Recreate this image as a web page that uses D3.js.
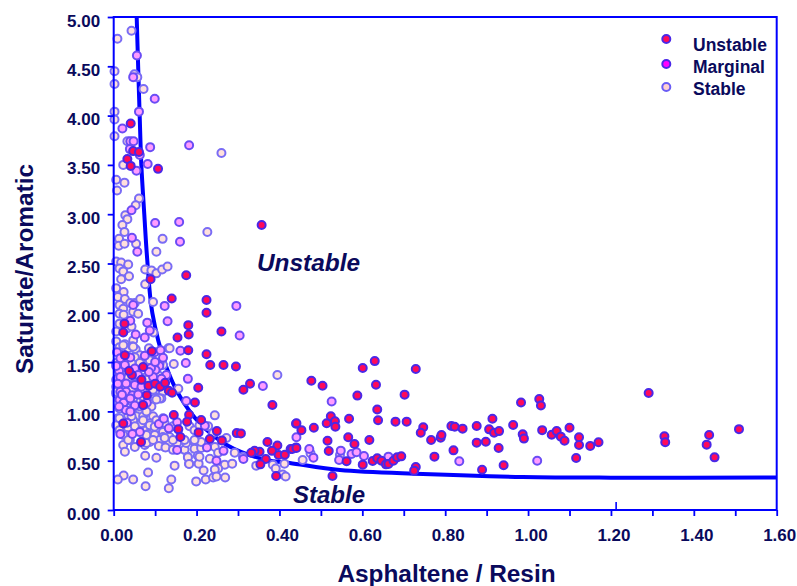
<!DOCTYPE html>
<html>
<head>
<meta charset="utf-8">
<script src="https://cdn.jsdelivr.net/npm/d3@7"></script>
<style>
  body { margin: 0; background: #fff; }
  text { font-family: "Liberation Sans", Arial, sans-serif; font-weight: bold; fill: #0a0a5c; }
</style>
</head>
<body>
<div id="chart"></div>
<script>
const curvePoints = [[0.0555,5],[0.059,4.5],[0.0627,4],[0.0667,3.5],[0.0738,3],[0.081,2.535],[0.0932,2],[0.1255,1.47],[0.16,1.15],[0.2075,0.88],[0.2727,0.66],[0.369,0.507],[0.425,0.477],[0.546,0.405],[0.746,0.365],[0.987,0.335],[1.2,0.328],[1.6,0.33]];

const unstablePoints = [[0.041,3.92],[0.047,3.64],[0.061,3.63],[0.033,3.56],[0.041,3.49],[0.107,3.46],[0.357,2.89],
[0.175,2.38],[0.089,2.34],[0.14,2.145],[0.224,2.13],[0.224,2],[0.18,1.875],[0.181,1.78],[0.154,1.75],[0.26,1.81],[0.18,1.62],[0.224,1.58],[0.233,1.47],[0.265,1.47],[0.295,1.456],[0.092,1.61],[0.071,1.45],[0.044,1.37],[0.067,1.32],[0.084,1.26],[0.1,1.28],[0.112,1.25],[0.124,1.29],[0.133,1.21],[0.141,1.19],[0.204,1.24],[0.313,1.22],[0.329,1.28],[0.383,1.065],[0.196,1.09],[0.026,1.89],[0.023,1.8],[0.027,1.57],[0.037,1.41],[0.08,1.165],[0.071,1.064],[0.145,0.963],[0.182,0.966],[0.177,0.895],[0.156,0.818],[0.161,0.74],[0.205,0.787],[0.211,0.912],[0.249,0.8],[0.232,0.72],[0.261,0.706],[0.297,0.78],[0.307,0.777],[0.066,0.69],[0.023,0.878],[0.371,0.69],[0.395,0.655],[0.382,0.6],[0.398,0.557],[0.413,0.56],[0.427,0.618],[0.44,0.635],[0.44,0.875],[0.352,0.59],[0.34,0.6],[0.332,0.58],[0.367,0.517],[0.354,0.463],[0.392,0.345],
[0.477,1.31],[0.504,1.26],[0.601,1.44],[0.63,1.51],[0.633,1.27],[0.729,1.43],[0.588,1.16],[0.702,1.17],[0.441,0.88],[0.453,0.81],[0.483,0.835],[0.514,0.88],[0.524,0.95],[0.534,0.9],[0.535,0.845],[0.568,0.926],[0.636,1.02],[0.638,0.91],[0.68,0.896],[0.707,0.896],[0.747,0.84],[0.741,0.784],[0.766,0.71],[0.789,0.734],[0.791,0.76],[0.815,0.852],[0.823,0.845],[0.842,0.825],[0.876,0.852],[0.876,0.683],[0.898,0.693],[0.914,0.926],[0.906,0.818],[0.918,0.784],[0.93,0.8],[0.929,0.629],[0.964,0.862],[0.987,0.767],[0.99,0.724],[0.983,1.09],[0.566,0.737],[0.581,0.669],[0.617,0.71],[0.516,0.703],[0.519,0.598],[0.431,0.619],[0.441,0.629],[0.562,0.494],[0.601,0.46],[0.625,0.497],[0.636,0.524],[0.646,0.5],[0.657,0.463],[0.663,0.467],[0.675,0.5],[0.684,0.534],[0.694,0.544],[0.729,0.436],[0.725,0.399],[0.528,0.345],[0.774,0.541],[0.82,0.605],[0.889,0.409],[0.941,0.453],
[1.027,1.126],[1.031,1.06],[1.034,0.81],[1.057,0.764],[1.069,0.8],[1.079,0.744],[1.088,0.703],[1.1,0.835],[1.123,0.737],[1.123,0.66],[1.15,0.65],[1.17,0.687],[1.116,0.528],[1.291,1.187],[1.329,0.747],[1.331,0.687],[1.431,0.663],[1.437,0.76],[1.45,0.534],[1.509,0.82]];

const marginalPoints = [[0.056,4.61],[0.047,4.39],[0.099,4.17],[0.061,4.04],[0.021,3.87],[0.04,3.74],[0.048,3.74],[0.039,3.66],[0.088,3.68],[0.182,3.7],[0.063,3.6],[0.082,3.51],[0.055,3.44],[0.043,3.04],[0.044,2.76],[0.057,2.62],[0.16,2.72],[0.158,2.92],[0.1,2.91],
[0.047,2.08],[0.081,1.9],[0.04,1.92],[0.053,1.78],[0.075,1.75],[0.087,1.82],[0.123,2.07],[0.13,1.915],[0.304,1.77],[0.296,2.07],[0.174,1.49],[0.161,1.615],[0.179,1.33],[0.36,1.257],[0.175,1.105],[0.008,1.6],[0.016,1.54],[0.04,1.547],[0.075,1.565],[0.099,1.6],[0.113,1.62],[0.119,1.545],[0.11,1.46],[0.101,1.42],[0.051,1.435],[0.013,1.41],[0.059,1.37],[0.095,1.35],[0.01,1.335],[0.014,1.277],[0.03,1.284],[0.051,1.267],[0.067,1.25],[0.127,1.37],[0.016,1.2],[0.03,1.2],[0.045,1.165],[0.059,1.172],[0.014,1.115],[0.03,1.115],[0.08,1.088],[0.024,1.088],[0.029,1.014],[0.032,0.885],[0.109,0.872],[0.121,0.926],[0.133,0.828],[0.153,0.889],[0.22,0.855],[0.153,0.608],[0.225,0.635],[0.265,0.6],[0.248,0.5],[0.063,0.79],[0.045,0.77],[0.016,0.77],[0.313,0.517],
[0.027,1.47],[0.006,1.46],[0.115,1.33],[0.016,1.35],[0.01,1.28],[0.013,1.05],[0.051,1.06],[0.04,1.13],[0.02,1.17],[0.04,1],[0.09,1.44],[0.085,1.4],[0.1,1.5],
[0.441,0.737],[0.472,0.619],[0.482,0.531],[0.548,0.602],[0.544,0.507],[0.574,0.568],[0.586,0.585],[0.604,0.548],[0.663,0.541],[0.526,1.1],[0.834,0.494],[1.022,0.5]];

const stablePoints = [[0.043,4.86],[0.009,4.78],[0.002,4.45],[0.05,4.42],[0.057,4.39],[0.002,4.32],[0.072,4.27],[0.002,4.04],[0.002,3.96],[0.002,3.79],[0.033,3.74],[0.26,3.62],[0.023,3.5],[0.006,3.35],[0.026,3.32],[0.008,3.24],[0.061,3.16],[0.053,3.09],[0.028,2.99],[0.033,2.95],[0.021,2.89],[0.026,2.82],[0.013,2.75],[0.012,2.68],[0.026,2.7],[0.054,2.7],[0.103,2.62],[0.118,2.75],[0.226,2.82],
[0.006,2.52],[0.018,2.51],[0.035,2.49],[0.014,2.45],[0.023,2.42],[0.037,2.37],[0.018,2.34],[0.006,2.25],[0.024,2.21],[0.01,2.16],[0.027,2.14],[0.04,2.1],[0.014,2.08],[0.023,2.04],[0.051,2.1],[0.064,2.14],[0.014,1.99],[0.024,1.98],[0.047,2.01],[0.059,1.99],[0.014,1.89],[0.032,1.84],[0.043,1.86],[0.006,1.81],[0.047,1.72],[0.027,1.68],[0.035,1.64],[0.006,1.71],[0.014,1.65],[0.045,1.66],[0.053,1.63],[0.076,2.44],[0.091,2.43],[0.103,2.4],[0.117,2.44],[0.13,2.47],[0.076,2.29],[0.095,2.11],[0.096,1.8],[0.132,1.64],[0.145,1.48],[0.085,1.64],[0.063,1.57],[0.051,1.55],[0.071,1.52],[0.087,1.52],[0.027,1.49],[0.043,1.49],[0.063,1.49],[0.083,1.49],[0.006,1.49],[0.119,1.47],[0.018,1.35],[0.035,1.34],[0.079,1.35],[0.107,1.37],[0.395,1.37],[0.006,1.25],[0.047,1.22],[0.103,1.22],[0.119,1.2],[0.156,1.23],[0.099,1.13],[0.115,1.13],[0.006,1.18],[0.055,1.1],[0.087,1.08],[0.043,1.1],[0.014,1.03],[0.047,1.03],[0.063,1.01],[0.079,1.01],[0.01,0.93],[0.035,0.96],[0.055,0.95],[0.071,0.95],[0.095,0.95],[0.244,0.96],[0.006,0.86],[0.047,0.91],[0.067,0.88],[0.087,0.88],[0.103,0.91],[0.123,0.88],[0.014,0.81],[0.035,0.83],[0.051,0.85],[0.079,0.81],[0.103,0.83],[0.119,0.79],[0.143,0.85],[0.183,0.85],[0.031,0.76],[0.083,0.77],[0.099,0.74],[0.119,0.74],[0.135,0.74],[0.195,0.81],[0.207,0.86],[0.228,0.85],[0.24,0.78],[0.272,0.73],[0.023,0.66],[0.039,0.71],[0.051,0.64],[0.027,0.59],[0.075,0.66],[0.087,0.69],[0.111,0.66],[0.123,0.64],[0.135,0.69],[0.153,0.68],[0.171,0.61],[0.175,0.68],[0.195,0.69],[0.195,0.62],[0.211,0.63],[0.244,0.64],[0.211,0.69],[0.292,0.58],[0.312,0.54],[0.076,0.55],[0.103,0.53],[0.147,0.45],[0.179,0.54],[0.182,0.47],[0.203,0.55],[0.205,0.47],[0.232,0.52],[0.252,0.58],[0.268,0.46],[0.286,0.47],[0.252,0.42],[0.244,0.41],[0.217,0.4],[0.344,0.45],[0.384,0.46],[0.412,0.47],[0.408,0.36],[0.415,0.34],[0.083,0.38],[0.024,0.35],[0.01,0.31],[0.047,0.31],[0.077,0.24],[0.139,0.31],[0.133,0.22],[0.199,0.29],[0.222,0.31],[0.24,0.33],[0.248,0.34],[0.269,0.33],[0.391,0.42],[0.456,0.507],[0.475,0.575],[0.546,0.558],
[0.023,1.67],[0.047,1.655],[0.087,1.52],[0.111,1.49],[0.135,1.64],[0.087,1.3],[0.095,1.22],[0.111,1.13],[0.103,1.12],[0.079,1.32],[0.051,1.28],[0.043,1.22],[0.047,1.13],[0.014,1.17],[0.006,1.2],[0.006,1.32],[0.071,1.15],[0.063,1.05],[0.091,1.05],[0.079,1],[0.014,0.93],[0.043,0.95],[0.071,0.91],[0.087,0.86],[0.099,0.845],[0.119,0.93],[0.023,0.76],[0.035,0.71],[0.079,0.76],[0.099,0.76],[0.111,0.71],[0.123,0.73],[0.143,0.71],[0.079,0.68],[0.095,0.71],[0.109,0.65],[0.125,0.635],[0.143,0.61],[0.171,0.71],[0.195,0.71],[0.179,0.534],[0.182,0.466],[0.207,0.54]];

const legendLabels = ['Unstable', 'Marginal', 'Stable'];
const legendFill = ['#ff0a5a', '#ff00ff', '#ffd0d0'];
const legendStroke = ['#4a28e8', '#4a28e8', '#6a5cf5'];
const xTicks = [0,0.1,0.2,0.3,0.4,0.5,0.6,0.7,0.8,0.9,1,1.1,1.2,1.3,1.4,1.5,1.6];
const yTicks = [0,0.5,1,1.5,2,2.5,3,3.5,4,4.5,5];

const w = 797, h = 586;
const blue = '#0000ff';
const svg = d3.select('#chart').append('svg').attr('width', w).attr('height', h).style('display', 'block');

const xScale = d3.scaleLinear().domain([0, 1.6]).range([113.7, 776.7]);
const yScale = d3.scaleLinear().domain([0, 5]).range([510, 17]);

// curve goes under the points
const line = d3.line().x(d => xScale(d[0])).y(d => yScale(d[1])).curve(d3.curveCatmullRom);
svg.append('path').attr('d', line(curvePoints)).attr('fill', 'none').attr('stroke', blue).attr('stroke-width', 4);

function drawPoints(data, fill, stroke) {
    svg.append('g').selectAll('circle').data(data).enter().append('circle')
        .attr('cx', d => xScale(d[0]))
        .attr('cy', d => yScale(d[1]))
        .attr('r', 4)
        .attr('fill', fill)
        .attr('stroke', stroke)
        .attr('stroke-width', 2);
}
drawPoints(stablePoints, '#ffe0dc', '#7a6cf5');
drawPoints(marginalPoints, '#ff9cff', '#6a4cf5');
drawPoints(unstablePoints, '#ff0a5a', '#4a28e8');

// frame
svg.append('rect').attr('x', xScale(0)).attr('y', yScale(5))
    .attr('width', xScale(1.6) - xScale(0)).attr('height', yScale(0) - yScale(5))
    .attr('fill', 'none').attr('stroke', blue).attr('stroke-width', 2);

// axes
const xAxis = d3.axisBottom(xScale).tickValues(xTicks).tickSize(6)
    .tickFormat(d => Math.round(d * 10) % 2 === 0 ? d3.format('.2f')(d) : '');
const yAxis = d3.axisLeft(yScale).tickValues(yTicks).tickSize(6).tickFormat(d3.format('.2f'));

const gx = svg.append('g').attr('transform', `translate(0, ${yScale(0)})`).call(xAxis);
const gy = svg.append('g').attr('transform', `translate(${xScale(0)}, 0)`).call(yAxis);
[gx, gy].forEach(g => {
    g.select('.domain').remove();
    g.selectAll('line').attr('stroke', blue).attr('stroke-width', 1.8);
    g.selectAll('text').style('font-size', '17px').style('font-family', '"Liberation Sans", Arial, sans-serif').style('font-weight', 'bold');
});
gx.selectAll('text').attr('y', 30.7).attr('dy', 0).attr('dx', 2.5);
gy.selectAll('text').attr('x', -13.5).attr('y', 9).attr('dy', 0);

// stray tick next to 1.20
svg.append('line').attr('x1', xScale(1.2125)).attr('x2', xScale(1.2125))
    .attr('y1', yScale(0)).attr('y2', yScale(0) - 8).attr('stroke', blue).attr('stroke-width', 1.6);

// titles
svg.append('text').attr('x', 446.5).attr('y', 582).attr('text-anchor', 'middle').style('font-size', '24.4px').text('Asphaltene / Resin');
svg.append('text').attr('transform', 'translate(32.5, 269) rotate(-90)').attr('text-anchor', 'middle').style('font-size', '24.4px').text('Saturate/Aromatic');

// annotations
svg.append('text').attr('x', 257).attr('y', 271).style('font-size', '24.4px').style('font-style', 'italic').text('Unstable');
svg.append('text').attr('x', 293).attr('y', 503).style('font-size', '24px').style('font-style', 'italic').text('Stable');

// legend
legendLabels.forEach((name, i) => {
    const y = [39, 64, 87][i];
    svg.append('circle').attr('cx', 666.3).attr('cy', y).attr('r', 4)
        .attr('fill', legendFill[i]).attr('stroke', legendStroke[i]).attr('stroke-width', 2);
    svg.append('text').attr('x', 693).attr('y', [51, 73, 95][i]).style('font-size', '17.5px').text(name);
});
</script>
</body>
</html>
